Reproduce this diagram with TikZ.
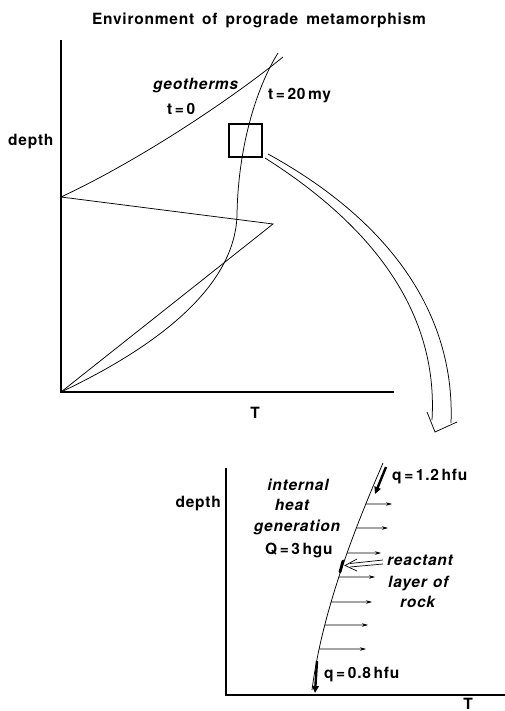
\documentclass[tikz,border=0pt]{standalone}
\usepackage{fontspec}
\newfontfamily\lblfont[LetterSpace=5]{TeX Gyre Heros}
\usetikzlibrary{arrows.meta,intersections}
\begin{document}
\begin{tikzpicture}[x=1pt,y=-1pt,
  lbl/.style={font=\lblfont\fontsize{15.5}{17}\selectfont\bfseries, inner sep=0pt},
  ilbl/.style={font=\lblfont\fontsize{15.5}{17}\selectfont\bfseries\itshape, inner sep=0pt},
  axis/.style={line width=1.3pt},
  curve/.style={line width=0.75pt},
  harrow/.style={line width=0.7pt, -{Stealth[length=6pt,width=3.5pt]}},
  qarrow/.style={line width=2.4pt, -{Triangle[length=7pt,width=6.5pt]}},
  bigarrow/.style={line width=0.75pt}]
\useasboundingbox (0,0) rectangle (505,711);

% ---------- title ----------
\node[lbl, anchor=base] (title) at (259,25) {Environment\hspace{8pt}of\hspace{8pt}prograde\hspace{8pt}metamorphism};

% ---------- upper diagram ----------
\coordinate (O) at (61,392);
\coordinate (Ytop) at (61,40);
\coordinate (Xend) at (394,392);
\draw[axis] (Ytop) -- (O) -- (Xend);
\node[lbl, anchor=base west] (depth1) at (8,146) {depth};
\node[lbl, anchor=base] (T1) at (255,418) {T};

% t = 0 geotherm
\coordinate (g0a) at (273,224);
\coordinate (g0b) at (61,197);
\coordinate (g0c) at (283,57);
\draw[curve] (O) -- (g0a) -- (g0b) .. controls (140,160) and (230,100) .. (g0c);

% t = 20 my geotherm
\coordinate (g20m) at (237,215);
\coordinate (g20e) at (278,53);
\draw[curve] (O) .. controls (150,350) and (235,290) .. (g20m)
  .. controls (238,150) and (255,90) .. (g20e);

\node[ilbl, anchor=base west] (geo) at (153,90) {geotherms};
\node[lbl, anchor=base west] (t0) at (167,115) {t\,=\,0};
\node[lbl, anchor=base west] (t20) at (268,100) {t\,=\,20\,my};

% box
\node[draw, line width=1.5pt, minimum width=33pt, minimum height=33pt, inner sep=0pt] (box) at (245.5,140.5) {};

% big curved hollow arrow
\coordinate (ai0) at (265,158);
\coordinate (ao0) at (268,154);
\coordinate (ai1) at (432,420);
\coordinate (ao1) at (451,423);
\coordinate (hl) at (427,412);
\coordinate (ht) at (435,432);
\coordinate (hr) at (457,422);
\draw[bigarrow] (ai0) .. controls (382,232) and (438,320) .. (ai1);
\draw[bigarrow] (ao0) .. controls (397,225) and (455,320) .. (ao1);
\draw[bigarrow] (hl) -- (ht) -- (hr);

% ---------- lower diagram ----------
\coordinate (O2) at (226,695);
\coordinate (Ytop2) at (226,468);
\coordinate (Xend2) at (505,695);
\draw[axis] (Ytop2) -- (O2) -- (Xend2);
\node[lbl, anchor=base east] (depth2) at (221,507) {depth};
\node[lbl, anchor=base] (T2) at (468,709) {T};

\coordinate (c0) at (383,463);
\coordinate (c1) at (312,690);
\draw[curve, name path=geo2] (c0) .. controls (354,530) and (322,612) .. (c1);

% horizontal heat-flow arrows
\foreach \yy/\xe [count=\i] in {504/392,528/388,553/381,577/375,602/372,625/368,649/366}{
  \path[name path=hl\i] (250,\yy) -- (420,\yy);
  \path[name intersections={of=geo2 and hl\i, by=s\i}];
  \coordinate (e\i) at (\xe,\yy);
  \draw[harrow] (s\i) -- (e\i);
}

% heat flow arrows
\coordinate (qa0) at (386,467);
\coordinate (qa1) at (375,494);
\draw[qarrow] (qa0) -- (qa1);
\coordinate (qb0) at (317,661);
\coordinate (qb1) at (315,693);
\draw[qarrow] (qb0) -- (qb1);
\node[lbl, anchor=base west] (q1) at (392,480) {q\,=\,1.2\,hfu};
\node[lbl, anchor=base west] (q2) at (324,678) {q\,=\,0.8\,hfu};

% reactant layer
\coordinate (r0) at (343,561);
\coordinate (r1) at (340,572);
\draw[line width=2.8pt, line cap=round] (r0) -- (r1);
\coordinate (ra0) at (383,560);
\coordinate (ra1) at (383,564);
\coordinate (rt) at (345,565.5);
\draw[line width=0.7pt] (ra0) -- (350,563.5);
\draw[line width=0.7pt] (ra1) -- (350,567);
\draw[line width=0.7pt] (357,559) -- (rt) -- (357,571);

% labels
\node[ilbl, anchor=base] (int) at (298,490) {internal};
\node[ilbl, anchor=base] (heat) at (292,510) {heat};
\node[ilbl, anchor=base] (gen) at (297,531) {generation};
\node[lbl, anchor=base west] (Q) at (265,554) {Q\,=\,3\,hgu};
\node[ilbl, anchor=base west] (react) at (387,565) {reactant};
\node[ilbl, anchor=base west] (layer) at (388,587) {layer\hspace{6pt}of};
\node[ilbl, anchor=base west] (rock) at (400,607) {rock};
\end{tikzpicture}
\end{document}
